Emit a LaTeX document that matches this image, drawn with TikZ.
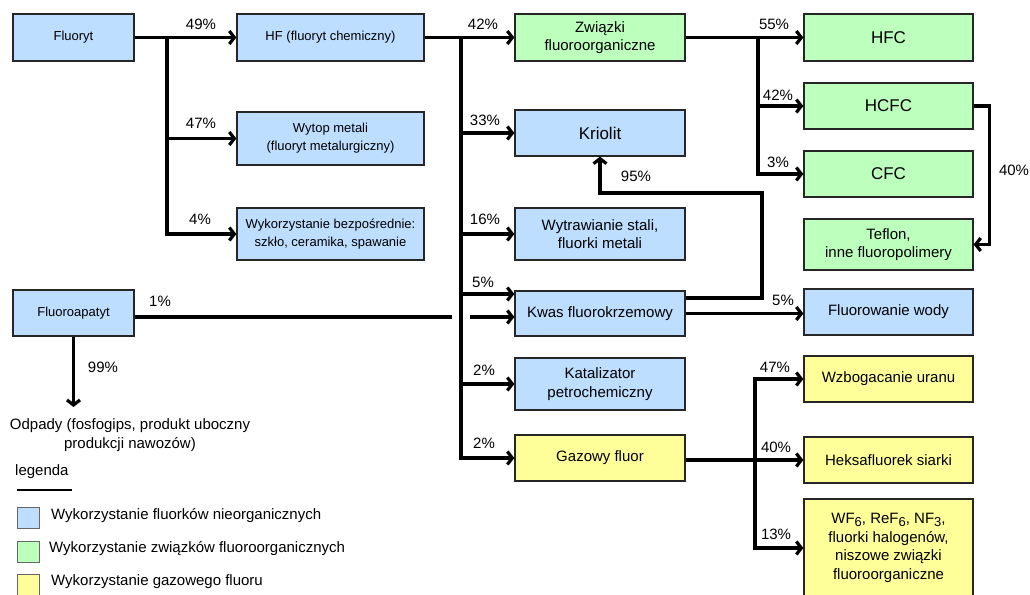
\documentclass[tikz,border=0pt]{standalone}
\usepackage{fontspec}
\setmainfont{Liberation Sans}
\usetikzlibrary{arrows.meta}
\definecolor{inorgblue}{RGB}{189,222,255}
\definecolor{orggreen}{RGB}{189,255,189}
\definecolor{gasyellow}{RGB}{255,255,153}
\tikzset{
  flowbox/.style={draw=black!85, line width=1.3pt, align=center, inner sep=0pt,
                  font=\fontsize{15}{18.5}\selectfont},
  inorg/.style={flowbox, fill=inorgblue},
  org/.style={flowbox, fill=orggreen},
  gas/.style={flowbox, fill=gasyellow},
  colA/.style={minimum width=121pt},
  colB/.style={minimum width=187pt},
  colC/.style={minimum width=170pt},
  colD/.style={minimum width=169pt},
  smalltxt/.style={font=\fontsize{13}{18}\selectfont},
  bigtxt/.style={font=\fontsize{17}{20}\selectfont},
  pct/.style={font=\fontsize{15}{15}\selectfont, inner sep=0pt},
  plaintxt/.style={font=\fontsize{15}{19}\selectfont, inner sep=0pt, align=center},
  legsq/.style={draw=black!60, line width=0.8pt, minimum width=22pt, minimum height=21pt, inner sep=0pt},
  conn/.style={line width=3.2pt},
  arr/.style={conn, -{Straight Barb[length=5pt,width=13pt]}},
}
\newcommand{\lowsub}[1]{\raisebox{-0.35ex}{\fontsize{13}{13}\selectfont#1}}

\begin{document}
\begin{tikzpicture}[x=1pt,y=-1pt]
  \useasboundingbox (0,0) rectangle (1030,594);
  \node[inorg, colA, smalltxt, minimum height=47pt] (fluoryt) at (73.5,37.5) {Fluoryt};
  \node[inorg, colA, smalltxt, minimum height=46pt] (fapat) at (73.5,313) {Fluoroapatyt};
  \node[inorg, colB, smalltxt, minimum height=47pt] (hf) at (330.5,37.5) {HF (fluoryt chemiczny)};
  \node[inorg, colB, smalltxt, minimum height=53pt] (wytop) at (330.5,138.5) {Wytop metali\\(fluoryt metalurgiczny)};
  \node[inorg, colB, smalltxt, minimum height=52pt] (bezp) at (330.5,234) {Wykorzystanie bezpośrednie:\\szkło, ceramika, spawanie};
  \node[org, colC, minimum height=47pt] (zwiazki) at (600,37.5) {Związki\\fluoroorganiczne};
  \node[inorg, colC, bigtxt, minimum height=46pt] (kriolit) at (600,133) {Kriolit};
  \node[inorg, colC, minimum height=52pt] (wytraw) at (600,234) {Wytrawianie stali,\\fluorki metali};
  \node[inorg, colC, minimum height=45pt] (kwas) at (600,313.5) {Kwas fluorokrzemowy};
  \node[inorg, colC, minimum height=52pt] (katal) at (600,384) {Katalizator\\petrochemiczny};
  \node[gas, colC, minimum height=46pt] (gazowy) at (600,458) {Gazowy fluor};
  \node[org, colD, bigtxt, minimum height=47pt] (hfc) at (888.5,37.5) {HFC};
  \node[org, colD, bigtxt, minimum height=46pt] (hcfc) at (888.5,106) {HCFC};
  \node[org, colD, bigtxt, minimum height=46pt] (cfc) at (888.5,174) {CFC};
  \node[org, colD, minimum height=51pt] (teflon) at (888.5,244.5) {Teflon,\\inne fluoropolimery};
  \node[inorg, colD, minimum height=46pt] (fluorow) at (888.5,312) {Fluorowanie wody};
  \node[gas, colD, minimum height=46pt] (wzbog) at (888.5,379) {Wzbogacanie uranu};
  \node[gas, colD, minimum height=46pt] (heks) at (888.5,460) {Heksafluorek siarki};
  \node[gas, colD, minimum height=98pt] (wf) at (888.5,548) {WF\lowsub{6}, ReF\lowsub{6}, NF\lowsub{3},\\fluorki halogenów,\\niszowe związki\\fluoroorganiczne};
  \node[plaintxt, anchor=north] (odpady) at (130,418) {Odpady (fosfogips, produkt uboczny\\produkcji nawozów)};

  \coordinate (fbr) at (167,37.5);
  \coordinate (hfbr) at (461,37.5);
  \coordinate (zwbr) at (758,37.5);
  \coordinate (gzbr) at (755,460);
  \coordinate (krturn) at (762,193);
  \coordinate (gapL) at (452,317);
  \coordinate (gapR) at (470,317);

  \draw[arr] (fluoryt) -- (hf);
  \foreach \t in {wytop,bezp}
    \draw[arr] (fbr) |- (\t.west);
  \draw[arr] (hf) -- (zwiazki);
  \foreach \t in {kriolit,wytraw,katal,gazowy}
    \draw[arr] (hfbr) |- (\t.west);
  \draw[arr] (hfbr) |- ([yshift=19.5pt]kwas.west);
  \draw[conn] ([yshift=-4pt]fapat.east) -- (gapL);
  \draw[arr] (gapR) -- (gapR -| kwas.west);
  \draw[arr] (fapat.south) -- ([yshift=11pt]fapat.south |- odpady.north);
  \draw[arr] ([yshift=15.5pt]kwas.east) -| (krturn) -| (kriolit.south);
  \draw[arr] (kwas.east) -- (kwas.east -| fluorow.west);
  \draw[arr] (zwiazki) -- (hfc);
  \foreach \t in {hcfc,cfc}
    \draw[arr] (zwbr) |- (\t.west);
  \draw[arr] (hcfc.east) -- ++(16,0) |- (teflon.east);
  \draw[arr] (gazowy.east |- heks.west) -- (heks.west);
  \foreach \t in {wzbog,wf}
    \draw[arr] (gzbr) |- (\t.west);

  \node[pct] (p49) at (201,24) {49\%};
  \node[pct] (p47) at (201,123) {47\%};
  \node[pct] (p4) at (200,219) {4\%};
  \node[pct] (p1) at (160,301) {1\%};
  \node[pct] (p99) at (103,367) {99\%};
  \node[pct] (p42a) at (483,24) {42\%};
  \node[pct] (p33) at (485,120) {33\%};
  \node[pct] (p16) at (485,219) {16\%};
  \node[pct] (p5a) at (483,282) {5\%};
  \node[pct] (p2a) at (484,370) {2\%};
  \node[pct] (p2b) at (484,443) {2\%};
  \node[pct] (p95) at (636,176) {95\%};
  \node[pct] (p55) at (774,24) {55\%};
  \node[pct] (p42b) at (778,95) {42\%};
  \node[pct] (p3) at (778,162) {3\%};
  \node[pct] (p40a) at (1014,170) {40\%};
  \node[pct] (p5b) at (783,300) {5\%};
  \node[pct] (p47b) at (775,367) {47\%};
  \node[pct] (p40b) at (776,447) {40\%};
  \node[pct] (p13) at (776,534) {13\%};

  \node[pct, anchor=west] (legtitle) at (15,472) {legenda};
  \draw[line width=1.2pt] (17,490) -- (72,490);
  \node[legsq, fill=inorgblue] (leg1) at (28,517.5) {};
  \node[legsq, fill=orggreen] (leg2) at (28,551.5) {};
  \node[legsq, fill=gasyellow] (leg3) at (28,585) {};
  \node[pct, anchor=west] (legt1) at (51,516) {Wykorzystanie fluorków nieorganicznych};
  \node[pct, anchor=west] (legt2) at (49,549) {Wykorzystanie związków fluoroorganicznych};
  \node[pct, anchor=west] (legt3) at (51,582) {Wykorzystanie gazowego fluoru};
\end{tikzpicture}
\end{document}
